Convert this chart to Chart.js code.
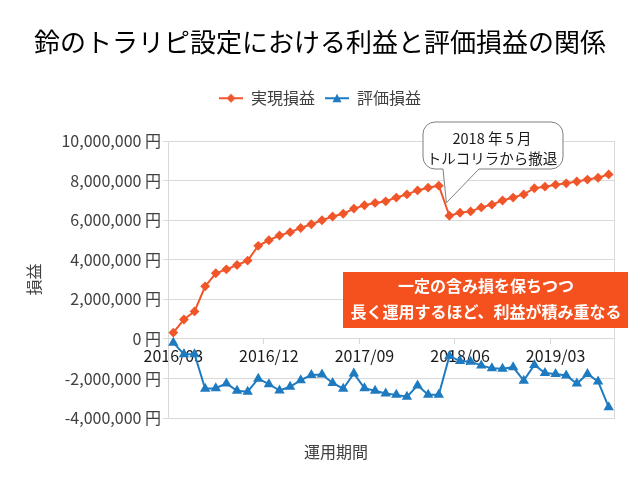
<!DOCTYPE html>
<html lang="ja">
<head>
<meta charset="utf-8">
<title>鈴のトラリピ設定における利益と評価損益の関係</title>
<script src="https://cdn.jsdelivr.net/npm/chart.js"></script>
<style>
  html, body { margin: 0; padding: 0; background: #fff; }
  #wrap { width: 640px; height: 480px; }
</style>
</head>
<body>
<div id="wrap"><canvas id="chart" width="640" height="480"></canvas></div>
<script>
// 月次データ (円)
const months = [
    '2016/03', '2016/04', '2016/05', '2016/06', '2016/07', '2016/08', '2016/09', '2016/10', '2016/11', '2016/12',
    '2017/01', '2017/02', '2017/03', '2017/04', '2017/05', '2017/06', '2017/07', '2017/08', '2017/09', '2017/10',
    '2017/11', '2017/12', '2018/01', '2018/02', '2018/03', '2018/04', '2018/05', '2018/06', '2018/07', '2018/08',
    '2018/09', '2018/10', '2018/11', '2018/12', '2019/01', '2019/02', '2019/03', '2019/04', '2019/05', '2019/06',
    '2019/07', '2019/08'
];
const realized = [
    320000, 980000, 1390000, 2660000, 3320000, 3520000, 3740000, 3960000, 4710000, 4990000,
    5230000, 5400000, 5610000, 5800000, 6000000, 6190000, 6330000, 6590000, 6760000, 6880000,
    6960000, 7150000, 7310000, 7510000, 7650000, 7750000, 6230000, 6380000, 6450000, 6650000,
    6790000, 7000000, 7150000, 7310000, 7620000, 7700000, 7800000, 7870000, 7960000, 8060000,
    8150000, 8320000
];
const unrealized = [
    -190000, -770000, -770000, -2520000, -2490000, -2250000, -2620000, -2670000, -2010000, -2290000,
    -2610000, -2420000, -2090000, -1820000, -1800000, -2230000, -2520000, -1750000, -2490000, -2620000,
    -2760000, -2830000, -2930000, -2350000, -2830000, -2830000, -860000, -1120000, -1150000, -1340000,
    -1490000, -1510000, -1430000, -2110000, -1320000, -1730000, -1770000, -1850000, -2260000, -1770000,
    -2150000, -3450000
];
const shownMonths = ['2016/03', '2016/12', '2017/09', '2018/06', '2019/03'];
const yMin = -4000000, yMax = 10000000, yStep = 2000000;
const exitMonth = '2018/05';

const FONT = "'Noto Sans CJK JP', 'Noto Sans', sans-serif";
const RED = '#f0562a';
const BLUE = '#1f7bc0';
const GRID = '#d9d9d9';
const TEXT = '#404040';

// 凡例用: 線 + マーカーの小さなアイコン
function legendIcon(color, style) {
    const c = document.createElement('canvas');
    c.width = 24; c.height = 12;
    const g = c.getContext('2d');
    g.strokeStyle = color; g.lineWidth = 2;
    g.beginPath(); g.moveTo(0, 6); g.lineTo(24, 6); g.stroke();
    g.fillStyle = color;
    g.beginPath();
    if (style === 'rectRot') {
        g.moveTo(12, 1.5); g.lineTo(16.5, 6); g.lineTo(12, 10.5); g.lineTo(7.5, 6);
    } else {
        g.moveTo(12, 1.5); g.lineTo(16.5, 10); g.lineTo(7.5, 10);
    }
    g.closePath(); g.fill();
    return c;
}
const icons = [legendIcon(RED, 'rectRot'), legendIcon(BLUE, 'triangle')];

// 凡例の下に余白を足す
const legendGap = {
    id: 'legendGap',
    beforeInit(chart) {
        const fit = chart.legend.fit;
        chart.legend.fit = function () {
            fit.bind(chart.legend)();
            this.height += 25;
        };
    }
};

// 横軸タイトル、吹き出し、強調ボックス
const notes = {
    id: 'notes',
    afterDraw(chart) {
        const { ctx } = chart;
        const xs = chart.scales.x, ys = chart.scales.y;
        const i = months.indexOf(exitMonth);
        const px = xs.getPixelForValue(i), py = ys.getPixelForValue(realized[i]);

        ctx.save();
        ctx.textAlign = 'center'; ctx.textBaseline = 'middle';
        ctx.fillStyle = TEXT;
        ctx.font = '16px ' + FONT;
        ctx.fillText('運用期間', 336, 452);

        // 吹き出し
        const x = 423, y = 122, w = 140, h = 47, r = 12;
        const tipX = px - 3, tipY = py - 13;
        ctx.beginPath();
        ctx.moveTo(x + r, y);
        ctx.lineTo(x + w - r, y); ctx.arcTo(x + w, y, x + w, y + r, r);
        ctx.lineTo(x + w, y + h - r); ctx.arcTo(x + w, y + h, x + w - r, y + h, r);
        ctx.lineTo(479, y + h); ctx.lineTo(tipX, tipY); ctx.lineTo(443, y + h);
        ctx.lineTo(x + r, y + h); ctx.arcTo(x, y + h, x, y + h - r, r);
        ctx.lineTo(x, y + r); ctx.arcTo(x, y, x + r, y, r);
        ctx.closePath();
        ctx.fillStyle = '#fff'; ctx.fill();
        ctx.strokeStyle = '#7f7f7f'; ctx.lineWidth = 1; ctx.stroke();

        ctx.fillStyle = '#1a1a1a';
        ctx.font = '14.5px ' + FONT;
        ctx.fillText('2018 年 5 月', 492, 138);
        ctx.fillText('トルコリラから撤退', 492, 158);

        // 強調ボックス
        ctx.fillStyle = '#f4511e';
        ctx.fillRect(343, 272, 285, 56);
        ctx.fillStyle = '#fff';
        ctx.font = 'bold 16px ' + FONT;
        ctx.fillText('一定の含み損を保ちつつ', 486, 286);
        ctx.fillText('長く運用するほど、利益が積み重なる', 486, 312);
        ctx.restore();
    }
};

new Chart(document.getElementById('chart'), {
    type: 'line',
    data: {
        labels: months,
        datasets: [{
            label: '実現損益',
            data: realized,
            borderColor: RED,
            backgroundColor: RED,
            borderWidth: 2,
            pointStyle: 'rectRot',
            pointRadius: 3.5,
            tension: 0
        }, {
            label: '評価損益',
            data: unrealized,
            borderColor: BLUE,
            backgroundColor: BLUE,
            borderWidth: 2,
            pointStyle: 'triangle',
            pointRadius: 4,
            tension: 0
        }]
    },
    options: {
        responsive: false,
        animation: false,
        devicePixelRatio: 1,
        layout: { padding: { left: 10, right: 10, top: 0, bottom: 62 } },
        scales: {
            x: {
                type: 'category',
                offset: true,
                position: { y: 0 },
                grid: {
                    offset: true,
                    drawOnChartArea: false,
                    tickLength: 5,
                    color: (c) => shownMonths.includes(months[c.index]) ? GRID : 'rgba(0,0,0,0)'
                },
                border: { color: GRID },
                ticks: {
                    autoSkip: false,
                    maxRotation: 0,
                    padding: 2,
                    color: '#1a1a1a',
                    font: { family: FONT, size: 16 },
                    callback: (v, i) => shownMonths.includes(months[i]) ? months[i] : ''
                }
            },
            y: {
                min: yMin,
                max: yMax,
                grid: { color: GRID, tickLength: 5 },
                border: { color: GRID },
                ticks: {
                    stepSize: yStep,
                    padding: 2,
                    color: TEXT,
                    font: { family: FONT, size: 16 },
                    callback: (v) => v.toLocaleString('ja-JP') + ' 円'
                },
                title: {
                    display: true,
                    text: '損益',
                    color: TEXT,
                    font: { family: FONT, size: 16 },
                    padding: { top: 14, bottom: 0 }
                },
                afterFit(scale) { scale.width = 158; }
            },
            // 右枠線用 (目盛りなし)
            yRight: {
                position: 'right',
                min: yMin,
                max: yMax,
                grid: { drawOnChartArea: false, drawTicks: false },
                border: { color: GRID },
                ticks: { display: false },
                afterFit(scale) { scale.width = 16; }
            }
        },
        plugins: {
            title: {
                display: true,
                text: '鈴のトラリピ設定における利益と評価損益の関係',
                color: '#000',
                font: { family: FONT, size: 26, weight: 'normal' },
                padding: { top: 27, bottom: 22 }
            },
            legend: {
                position: 'top',
                labels: {
                    color: TEXT,
                    font: { family: FONT, size: 16 },
                    usePointStyle: true,
                    pointStyleWidth: 24,
                    padding: 10,
                    generateLabels(chart) {
                        const items = Chart.defaults.plugins.legend.labels.generateLabels(chart);
                        items.forEach((it, k) => { it.pointStyle = icons[k]; });
                        return items;
                    }
                }
            },
            tooltip: { enabled: false }
        }
    },
    plugins: [legendGap, notes]
});
</script>
</body>
</html>
